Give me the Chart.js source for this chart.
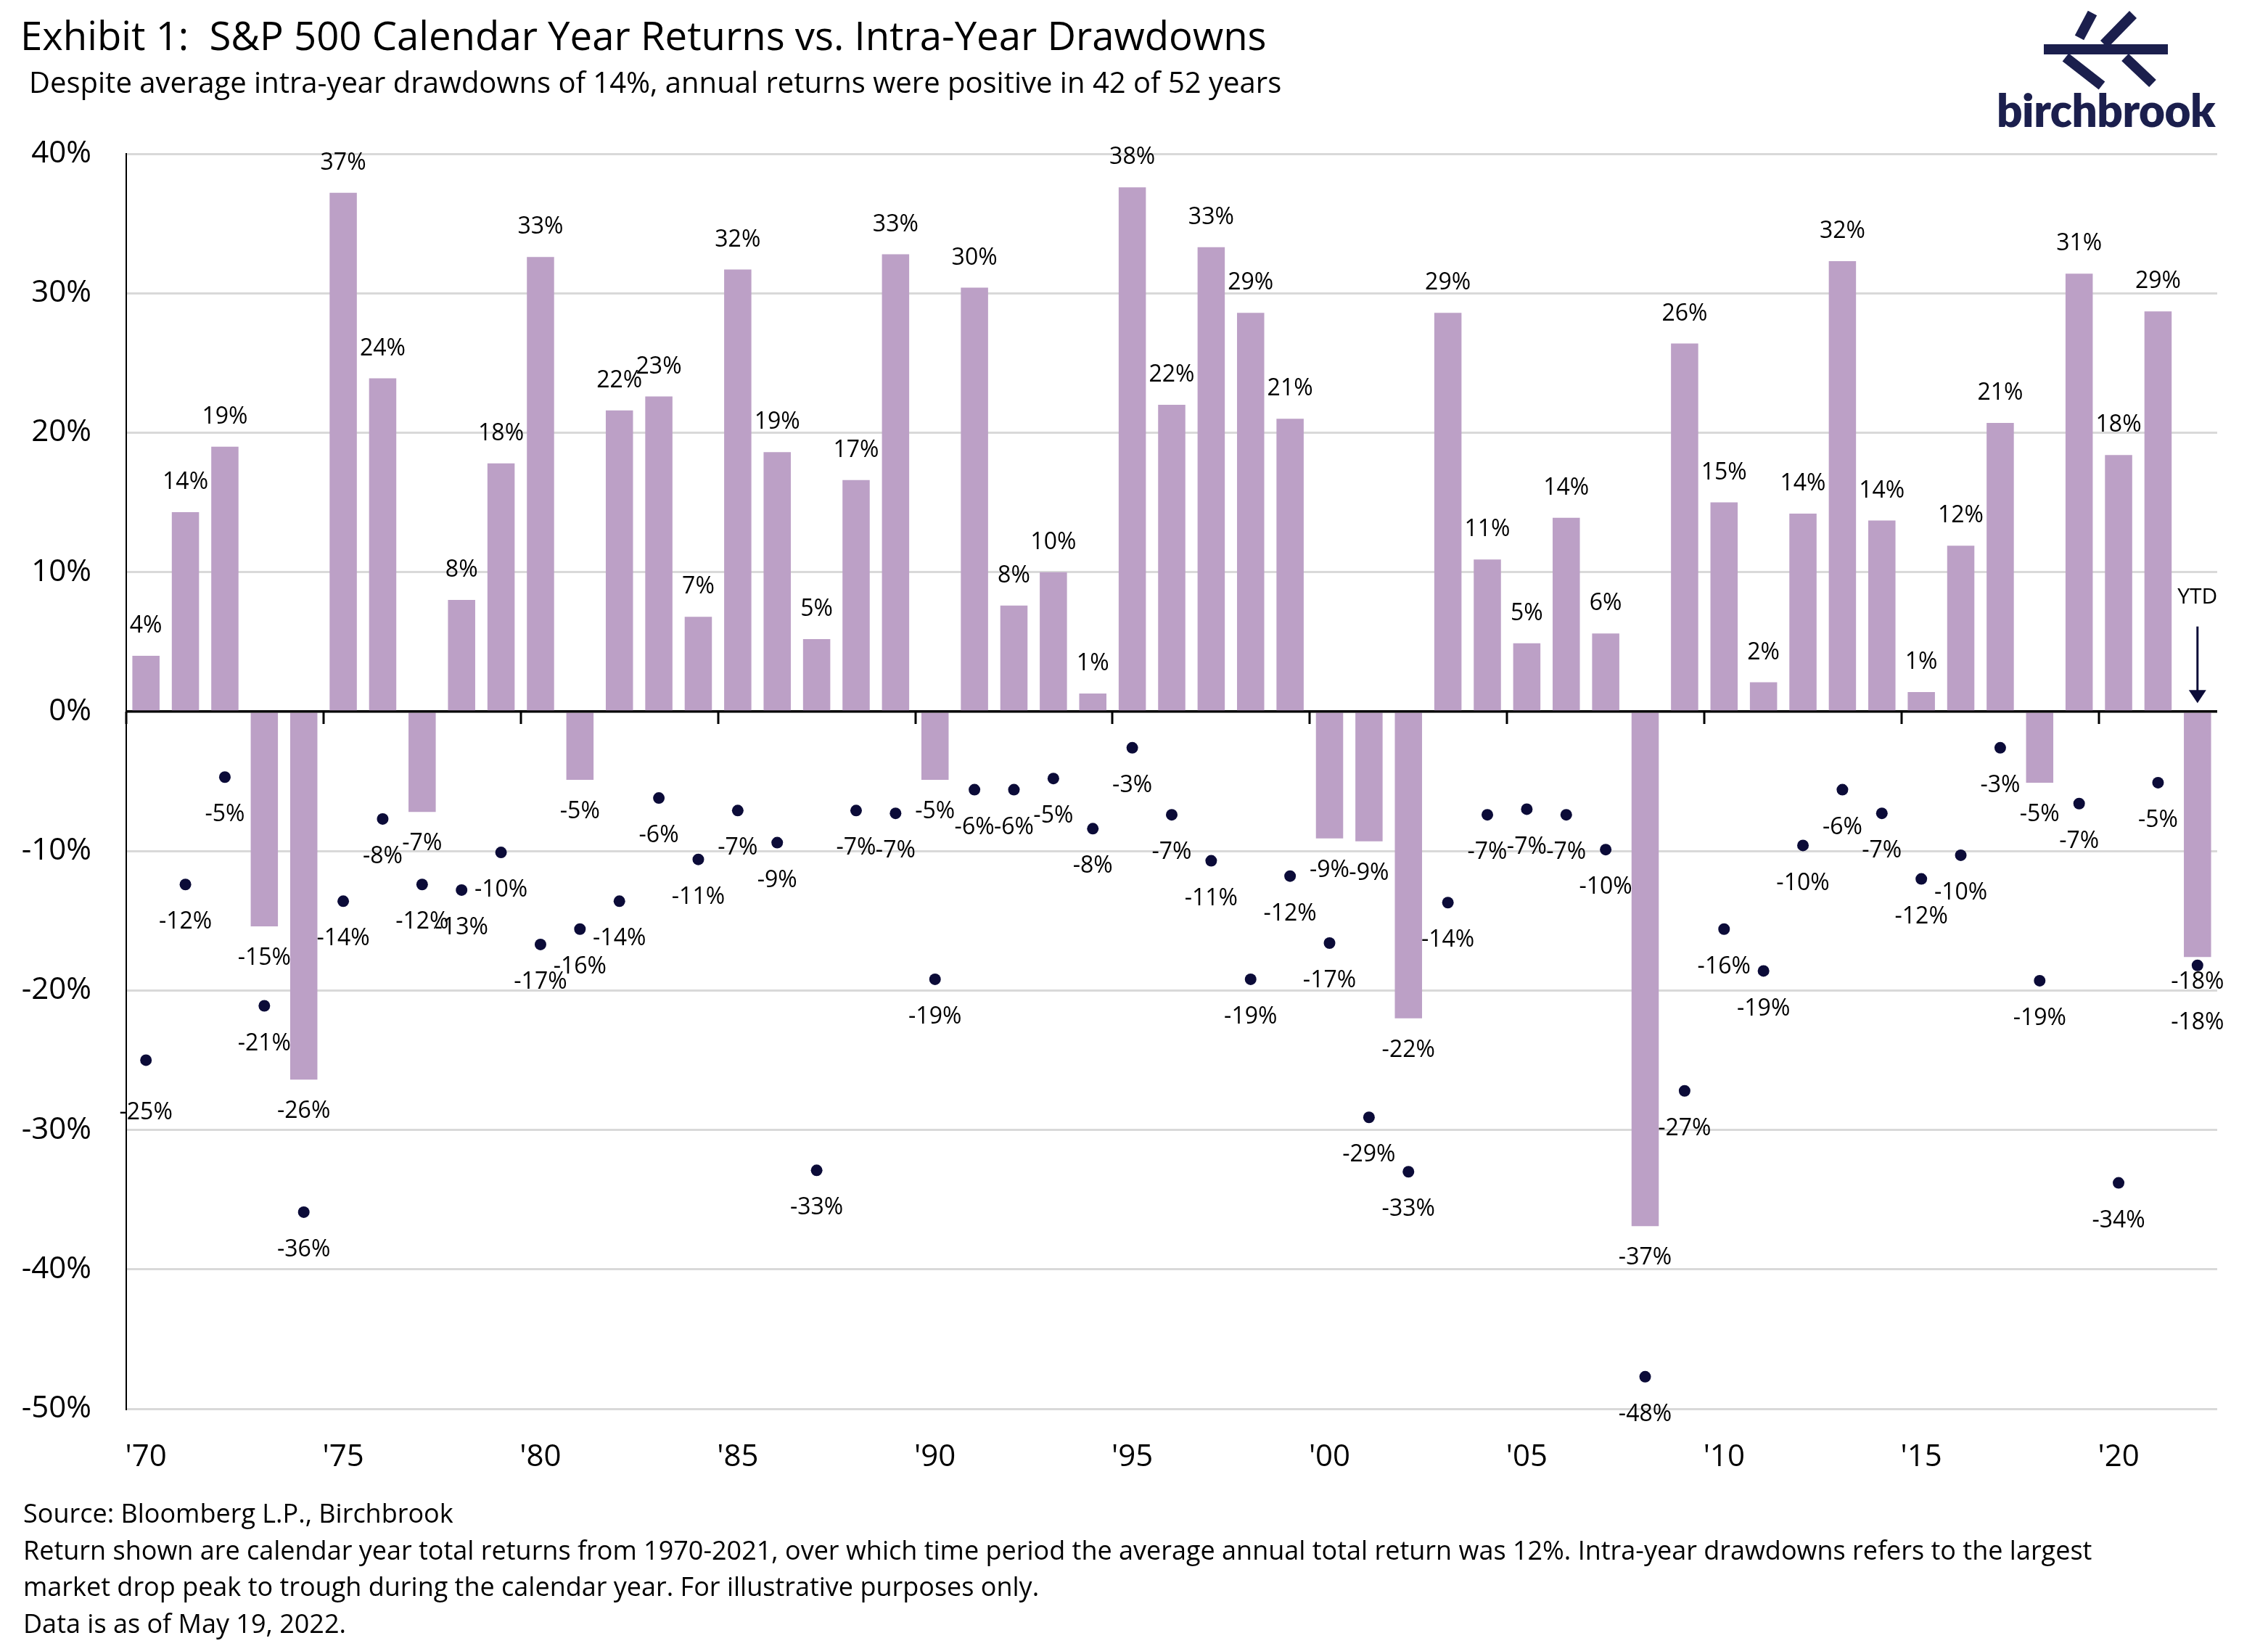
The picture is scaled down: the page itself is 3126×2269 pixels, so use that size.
<!DOCTYPE html>
<html>
<head>
<meta charset="utf-8">
<script src="https://cdn.jsdelivr.net/npm/chart.js@4.4.1/dist/chart.umd.min.js"></script>
<style>
    html, body { margin: 0; padding: 0; background: #fff; }
    body { width: 3126px; height: 2269px; position: relative; overflow: hidden; font-family: 'Open Sans', sans-serif; color: #000; }
    #wrap { position: absolute; left: 0; top: 0; width: 3126px; height: 2269px; }
    .txt { position: absolute; white-space: nowrap; line-height: 1; }
    #title { left: 28px; top: 21px; font-size: 54.5px; }
    #subtitle { left: 40px; top: 93px; font-size: 40px; }
    #notes { left: 32px; top: 2068px; font-size: 36px; }
    #notes div { height: 50.5px; }
    #logoText { left: 2752px; top: 120px; font-family: Lato, sans-serif; font-weight: 800; font-size: 62px; color: #1b1f4d; letter-spacing: -0.5px; }
    #logoMark { position: absolute; left: 2800px; top: 8px; }
</style>
</head>
<body>
<div id="wrap"><canvas id="chart"></canvas></div>

<div class="txt" id="title">Exhibit 1:&nbsp; S&amp;P 500 Calendar Year Returns vs. Intra-Year Drawdowns</div>
<div class="txt" id="subtitle">Despite average intra-year drawdowns of 14%, annual returns were positive in 42 of 52 years</div>

<svg id="logoMark" width="210" height="120" viewBox="2800 8 210 120">
    <g stroke="#1b1f4d" stroke-width="14" fill="none" stroke-linecap="butt">
        <line x1="2817" y1="68" x2="2988" y2="68" />
        <line x1="2884" y1="18" x2="2866" y2="52" />
        <line x1="2847" y1="79" x2="2897" y2="118" />
        <line x1="2940" y1="20" x2="2900" y2="61" />
        <line x1="2929" y1="79" x2="2967" y2="115" />
    </g>
</svg>
<div class="txt" id="logoText">birchbrook</div>

<div class="txt" id="notes">
    <div>Source: Bloomberg L.P., Birchbrook</div>
    <div>Return shown are calendar year total returns from 1970-2021, over which time period the average annual total return was 12%. Intra-year drawdowns refers to the largest</div>
    <div>market drop peak to trough during the calendar year. For illustrative purposes only.</div>
    <div>Data is as of May 19, 2022.</div>
</div>

<script>
// categorias (anos) e séries
const years = [1970, 1971, 1972, 1973, 1974, 1975, 1976, 1977, 1978, 1979,
    1980, 1981, 1982, 1983, 1984, 1985, 1986, 1987, 1988, 1989,
    1990, 1991, 1992, 1993, 1994, 1995, 1996, 1997, 1998, 1999,
    2000, 2001, 2002, 2003, 2004, 2005, 2006, 2007, 2008, 2009,
    2010, 2011, 2012, 2013, 2014, 2015, 2016, 2017, 2018, 2019,
    2020, 2021, 2022];

const annualReturns = [4.0, 14.3, 19.0, -15.4, -26.4, 37.2, 23.9, -7.2, 8.0, 17.8,
    32.6, -4.9, 21.6, 22.6, 6.8, 31.7, 18.6, 5.2, 16.6, 32.8,
    -4.9, 30.4, 7.6, 10.0, 1.3, 37.6, 22.0, 33.3, 28.6, 21.0,
    -9.1, -9.3, -22.0, 28.6, 10.9, 4.9, 13.9, 5.6, -36.9, 26.4,
    15.0, 2.1, 14.2, 32.3, 13.7, 1.4, 11.9, 20.7, -5.1, 31.4,
    18.4, 28.7, -17.6];

const drawdowns = [-25.0, -12.4, -4.7, -21.1, -35.9, -13.6, -7.7, -12.4, -12.8, -10.1,
    -16.7, -15.6, -13.6, -6.2, -10.6, -7.1, -9.4, -32.9, -7.1, -7.3,
    -19.2, -5.6, -5.6, -4.8, -8.4, -2.6, -7.4, -10.7, -19.2, -11.8,
    -16.6, -29.1, -33.0, -13.7, -7.4, -7.0, -7.4, -9.9, -47.7, -27.2,
    -15.6, -18.6, -9.6, -5.6, -7.3, -12.0, -10.3, -2.6, -19.3, -6.6,
    -33.8, -5.1, -18.2];

const xTickLabels = ["'70", "'75", "'80", "'85", "'90", "'95", "'00", "'05", "'10", "'15", "'20"];
const yTickValues = [-50, -40, -30, -20, -10, 0, 10, 20, 30, 40];

// ajustes manuais de rótulos (deslocamento vertical em px)
const labelNudge = { dot: { 0: 20, 52: 27 }, bar: { 52: -9 } };

const BAR_COLOR = '#bca0c6';
const DOT_COLOR = '#0b0b38';
const LABEL_FONT = '32px "Open Sans"';

const labelsPlugin = {
    id: 'valueLabels',
    afterDatasetsDraw(chart) {
        const ctx = chart.ctx;
        const x = chart.scales.x;
        const y = chart.scales.y;
        const zero = y.getPixelForValue(0);
        const half = (x.getPixelForValue(1) - x.getPixelForValue(0)) / 2;

        ctx.save();
        // linha do zero e marcas a cada 5 anos
        ctx.strokeStyle = '#000';
        ctx.lineWidth = 3;
        ctx.beginPath();
        ctx.moveTo(chart.chartArea.left, zero);
        ctx.lineTo(chart.chartArea.right, zero);
        years.forEach((yr, i) => {
            if (yr % 5 === 0) {
                const px = Math.round(x.getPixelForValue(i) - half);
                ctx.moveTo(px, zero);
                ctx.lineTo(px, zero + 17);
            }
        });
        ctx.stroke();

        ctx.font = LABEL_FONT;
        ctx.fillStyle = '#000';
        ctx.textAlign = 'center';
        ctx.textBaseline = 'middle';

        const barMeta = chart.getDatasetMeta(0);
        barMeta.data.forEach((el, i) => {
            const v = annualReturns[i];
            const off = labelNudge.bar[i] || 0;
            const ty = v >= 0 ? el.y - 41 : el.y + 44 + off;
            ctx.fillText(Math.round(v) + '%', el.x, ty);
        });

        const dotMeta = chart.getDatasetMeta(1);
        dotMeta.data.forEach((el, i) => {
            const off = labelNudge.dot[i] || 0;
            ctx.fillText(Math.round(drawdowns[i]) + '%', el.x, el.y + 52 + off);
        });

        // YTD com seta
        const last = years.length - 1;
        const ax = x.getPixelForValue(last);
        ctx.font = '30px "Open Sans"';
        ctx.fillText('YTD', ax, y.getPixelForValue(8.2));
        const top = y.getPixelForValue(6.1);
        const tip = y.getPixelForValue(0.6);
        ctx.strokeStyle = DOT_COLOR;
        ctx.fillStyle = DOT_COLOR;
        ctx.lineWidth = 3;
        ctx.beginPath();
        ctx.moveTo(ax, top);
        ctx.lineTo(ax, tip - 14);
        ctx.stroke();
        ctx.beginPath();
        ctx.moveTo(ax - 12, tip - 18);
        ctx.lineTo(ax + 12, tip - 18);
        ctx.lineTo(ax, tip);
        ctx.closePath();
        ctx.fill();
        ctx.restore();
    }
};

new Chart(document.getElementById('chart'), {
    type: 'bar',
    data: {
        labels: years,
        datasets: [{
            label: 'Calendar year return',
            data: annualReturns,
            backgroundColor: BAR_COLOR,
            categoryPercentage: 1,
            barPercentage: 0.69,
            order: 2
        }, {
            type: 'line',
            label: 'Intra-year drawdown',
            data: drawdowns,
            showLine: false,
            pointRadius: 8,
            pointHoverRadius: 8,
            pointBackgroundColor: DOT_COLOR,
            pointBorderWidth: 0,
            order: 1
        }]
    },
    plugins: [labelsPlugin],
    options: {
        responsive: true,
        maintainAspectRatio: false,
        animation: false,
        devicePixelRatio: 1,
        layout: { padding: { left: 0, right: 70, top: 212, bottom: 217 } },
        plugins: { legend: { display: false }, tooltip: { enabled: false } },
        scales: {
            x: {
                grid: { display: false },
                border: { display: false },
                ticks: {
                    autoSkip: false,
                    maxRotation: 0,
                    padding: 34,
                    color: '#000',
                    font: { family: 'Open Sans', size: 42 },
                    callback: (val, i) => (years[i] % 5 === 0 ? xTickLabels[(years[i] - 1970) / 5] : '')
                },
                afterFit: (scale) => { scale.height = 110; }
            },
            y: {
                min: -50,
                max: 40,
                afterBuildTicks: (scale) => { scale.ticks = yTickValues.map(v => ({ value: v })); },
                grid: {
                    color: (c) => (c.tick && c.tick.value === 0 ? '#000' : '#d9d9d9'),
                    lineWidth: 3,
                    drawTicks: false
                },
                border: { display: true, color: '#000', width: 2 },
                ticks: {
                    padding: 48,
                    color: '#000',
                    font: { family: 'Open Sans', size: 42 },
                    callback: (v) => v + '%'
                },
                afterFit: (scale) => { scale.width = 174; }
            }
        }
    }
});
</script>
</body>
</html>
